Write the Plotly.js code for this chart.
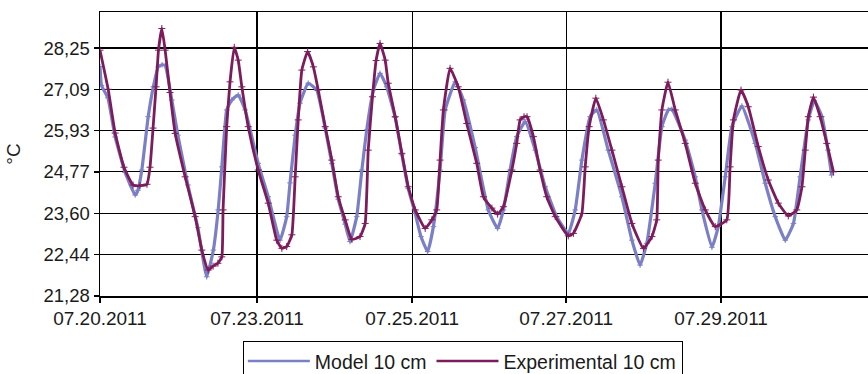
<!DOCTYPE html>
<html>
<head>
<meta charset="utf-8">
<script src="https://cdn.plot.ly/plotly-3.0.1.min.js"></script>
<style>
html,body{margin:0;padding:0;background:#fff;}
#chart{width:868px;height:374px;}
</style>
</head>
<body>
<div id="chart"></div>
<script>
// Time in hours from the first sample
var modelHours = [0,0.5,2.6,5.0,8.3,11.6,12.5,13.8,15.9,17.6,19.2,20.5,21.5,23.7,25.7,29.0,32.3,35.2,37.4,39.0,40.2,41.8,43.5,45.6,47.9,52.2,55.5,59.4,61.6,62.7,64.4,66.0,68.7,71.5,74.3,76.5,78.6,80.9,82.5,84.7,86.4,88.0,90.2,92.4,94.6,97.4,99.6,101.7,104.0,105.9,108.1,110.0,112.2,113.9,117.2,119.9,123.8,128.1,131.2,133.1,135.3,137.5,140.3,143.6,146.9,150.7,154.5,156.8,159.0,161.7,163.9,167.7,172.2,175.5,178.2,180.4,183.2,185.4,187.5,188.7,193.1,196.4,198.6,201.9,204.0,206.3,208.5,211.8,216.2,219.5,222.8,226.1,228.8,231.0,233.7,235.7,238.2,240.2,241.4];
var modelTemp = [27.73,27.2,26.85,25.75,24.75,24.12,24.25,24.82,26.32,27.16,27.72,27.78,27.76,26.79,25.8,24.4,23.2,21.82,22.57,23.70,24.91,26.51,26.79,26.93,26.51,25.01,24.07,22.85,23.51,24.46,25.8,26.70,27.26,27.07,26.0,25.0,24.0,23.3,22.81,23.51,24.82,25.95,27.07,27.54,27.16,26.3,25.25,24.3,23.6,22.95,22.53,23.23,24.82,26.51,27.30,26.79,25.45,23.70,23.18,23.70,24.82,25.76,26.18,25.38,24.35,23.51,23.04,23.70,25.10,26.32,26.51,25.38,24.07,22.85,22.15,22.76,24.45,26.04,26.51,26.53,25.66,24.63,23.70,22.65,23.23,24.63,26.04,26.62,25.57,24.45,23.51,22.85,23.32,24.63,26.23,26.77,26.32,25.38,24.68];

var expHours = [0,2.7,5.0,7.9,10.9,13.2,15.5,16.5,17.5,18.5,19.3,20.4,21.5,23.1,24.8,28.1,31.4,33.6,35.7,37.3,38.9,40.2,40.6,41.8,42.9,44.3,45.6,46.8,48.9,52.2,55.5,58.3,60.0,61.6,63.3,64.4,65.4,66.6,68.5,70.4,72.0,74.3,76.5,78.6,80.9,83.1,85.8,87.5,88.5,89.9,91.1,92.4,94.1,95.1,97.4,99.6,101.7,104.0,107.3,109.5,111.1,112.2,113.3,115.5,118.2,121.0,124.3,126.5,129.3,131.2,133.1,135.9,137.5,138.6,139.9,140.9,143.0,145.2,147.4,150.2,154.5,156.2,159.0,160.1,161.4,163.6,166.1,168.9,172.2,175.5,179.3,182.1,183.7,184.2,185.4,187.4,189.8,193.1,196.4,199.7,203.0,206.8,207.9,209.0,211.5,213.9,217.2,220.5,223.8,227.1,229.9,231.6,232.7,233.7,235.4,237.6,239.8,242.0];
var expTemp = [28.19,27.09,25.86,24.9,24.40,24.38,24.42,24.9,26.0,27.16,28.19,28.80,28.19,27.0,25.85,24.63,23.51,22.57,22.01,22.12,22.20,22.38,23.70,26.04,27.30,28.27,27.91,27.16,26.04,24.82,23.89,22.85,22.62,22.67,23.0,24.63,26.23,27.63,28.15,27.72,27.07,26.04,25.10,24.07,23.42,22.87,22.95,23.32,25.38,26.88,27.9,28.38,27.91,27.26,26.32,25.29,24.35,23.70,23.18,23.42,23.70,25.10,26.51,27.68,27.16,26.13,25.01,24.07,23.75,23.58,23.79,24.82,25.57,26.23,26.32,26.32,25.76,24.82,24.07,23.51,22.97,23.04,23.60,24.91,26.04,26.84,26.23,25.38,24.35,23.32,22.62,22.95,23.42,25.10,26.51,27.29,26.51,25.57,24.45,23.70,23.23,23.42,24.91,26.23,27.07,26.60,25.48,24.54,23.89,23.53,23.70,24.35,25.38,26.32,26.87,26.32,25.57,24.77];

var xTickVals = [0,51.8,103.0,153.8,204.9];
var xTickText = ['07.20.2011','07.23.2011','07.25.2011','07.27.2011','07.29.2011'];
var yTickVals = [21.28,22.44,23.60,24.77,25.93,27.09,28.25];
var yTickText = ['21,28','22,44','23,60','24,77','25,93','27,09','28,25'];
var seriesNames = ['Model 10 cm','Experimental 10 cm'];
var seriesColors = ['#7b80c6','#7d1c5c'];

var FONT = 'Liberation Sans, Arial, sans-serif';

var traces = [
  {x: modelHours, y: modelTemp, name: seriesNames[0], type: 'scatter', mode: 'lines+markers',
   showlegend: false, legendgroup: 'm',
   line: {color: seriesColors[0], width: 3.2, shape: 'spline', smoothing: 0.4},
   marker: {symbol: 'cross-thin', size: 4, color: seriesColors[0], line: {color: seriesColors[0], width: 1}}},
  {x: expHours, y: expTemp, name: seriesNames[1], type: 'scatter', mode: 'lines+markers',
   showlegend: false, legendgroup: 'e',
   line: {color: seriesColors[1], width: 2.8, shape: 'spline', smoothing: 0.4},
   marker: {symbol: 'cross-thin', size: 5, color: seriesColors[1], line: {color: seriesColors[1], width: 1}}},
  // legend entries (line only, like the reference)
  {x: [null], y: [null], name: seriesNames[0], type: 'scatter', mode: 'lines', legendgroup: 'm',
   line: {color: seriesColors[0], width: 2.5}},
  {x: [null], y: [null], name: seriesNames[1], type: 'scatter', mode: 'lines', legendgroup: 'e',
   line: {color: seriesColors[1], width: 2.5}}
];

var layout = {
  width: 868, height: 374,
  margin: {l: 100, r: 0, t: 12, b: 78, autoexpand: false},
  paper_bgcolor: '#fff', plot_bgcolor: '#fff',
  font: {family: FONT, size: 19, color: '#1a1a1a'},
  showlegend: true,
  xaxis: {
    range: [0, 253.4], tickmode: 'array', tickvals: xTickVals, ticktext: xTickText,
    showgrid: true, gridcolor: '#000', gridwidth: 1.2, zeroline: false,
    showline: true, linecolor: '#000', linewidth: 1.5, mirror: true,
    ticks: 'outside', ticklen: 5, tickcolor: '#000', tickwidth: 1.5,
    tickfont: {family: FONT, size: 19, color: '#1a1a1a'}
  },
  yaxis: {
    range: [21.28, 29.263], tickmode: 'array', tickvals: yTickVals, ticktext: yTickText,
    showgrid: true, gridcolor: '#000', gridwidth: 1.2, zeroline: false,
    showline: true, linecolor: '#000', linewidth: 1.5,
    ticks: 'outside', ticklen: 5, tickcolor: '#000', tickwidth: 1.5,
    tickfont: {family: FONT, size: 18.5, color: '#1a1a1a'},
    title: {text: '°C', font: {family: FONT, size: 19, color: '#1a1a1a'}, standoff: 18},
    automargin: true
  },
  legend: {
    orientation: 'h', x: 0.186, y: -0.157, xanchor: 'left', yanchor: 'top',
    bordercolor: '#000', borderwidth: 1.2, bgcolor: '#fff', itemwidth: 62,
    font: {family: FONT, size: 19.5, color: '#1a1a1a'}
  }
};

Plotly.newPlot('chart', traces, layout, {displayModeBar: false, staticPlot: true});
</script>
</body>
</html>
